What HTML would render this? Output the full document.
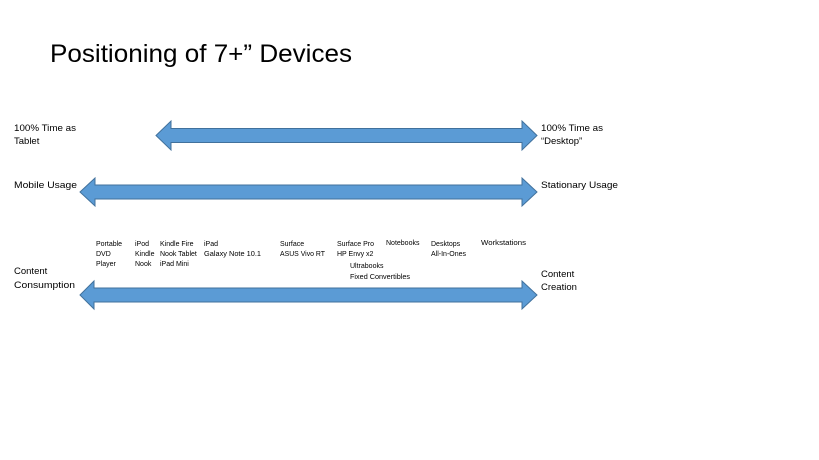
<!DOCTYPE html>
<html><head><meta charset="utf-8"><style>
html,body{margin:0;padding:0;background:#fff;}
svg{display:block;}
text{font-family:"Liberation Sans",sans-serif;fill:#000;}
.s{font-size:7px;}
.m{font-size:9.5px;}
</style></head><body>
<svg width="819" height="460" viewBox="0 0 819 460" xmlns="http://www.w3.org/2000/svg">
<text x="50" y="62" font-size="25" textLength="302" lengthAdjust="spacingAndGlyphs">Positioning of 7+” Devices</text>
<g fill="#5b9bd5" stroke="#41719c" stroke-width="1">
<polygon points="156,135.5 171,121 171,128.5 522,128.5 522,121 537,135.5 522,150 522,142.5 171,142.5 171,150"/>
<polygon points="80,192 95,178 95,185 522,185 522,178 537,192 522,206 522,199 95,199 95,206"/>
<polygon points="80,295 94,281 94,288 522,288 522,281 537,295 522,309 522,302 94,302 94,309"/>
</g>
<g class="m">
<text x="14" y="131" textLength="62" lengthAdjust="spacingAndGlyphs">100% Time as</text>
<text x="14" y="144">Tablet</text>
<text x="14" y="188" textLength="63" lengthAdjust="spacingAndGlyphs">Mobile Usage</text>
<text x="14" y="274">Content</text>
<text x="14" y="288" textLength="61" lengthAdjust="spacingAndGlyphs">Consumption</text>
<text x="541" y="131" textLength="62" lengthAdjust="spacingAndGlyphs">100% Time as</text>
<text x="541" y="144">“Desktop”</text>
<text x="541" y="188" textLength="77" lengthAdjust="spacingAndGlyphs">Stationary Usage</text>
<text x="541" y="277">Content</text>
<text x="541" y="290">Creation</text>
</g>
<g class="s">
<text x="96" y="246">Portable</text><text x="96" y="256">DVD</text><text x="96" y="266">Player</text>
<text x="135" y="246">iPod</text><text x="135" y="256">Kindle</text><text x="135" y="266">Nook</text>
<text x="160" y="246">Kindle Fire</text><text x="160" y="256">Nook Tablet</text><text x="160" y="266">iPad Mini</text>
<text x="204" y="246">iPad</text><text x="204" y="256" textLength="57" lengthAdjust="spacingAndGlyphs">Galaxy Note 10.1</text>
<text x="280" y="246">Surface</text><text x="280" y="256" textLength="45" lengthAdjust="spacingAndGlyphs">ASUS Vivo RT</text>
<text x="337" y="246">Surface Pro</text><text x="337" y="256">HP Envy x2</text>
<text x="350" y="268">Ultrabooks</text><text x="350" y="279" textLength="60" lengthAdjust="spacingAndGlyphs">Fixed Convertibles</text>
<text x="386" y="245">Notebooks</text>
<text x="431" y="246">Desktops</text><text x="431" y="256">All-In-Ones</text>
<text x="481" y="245" textLength="45" lengthAdjust="spacingAndGlyphs">Workstations</text>
</g>
</svg>
</body></html>
